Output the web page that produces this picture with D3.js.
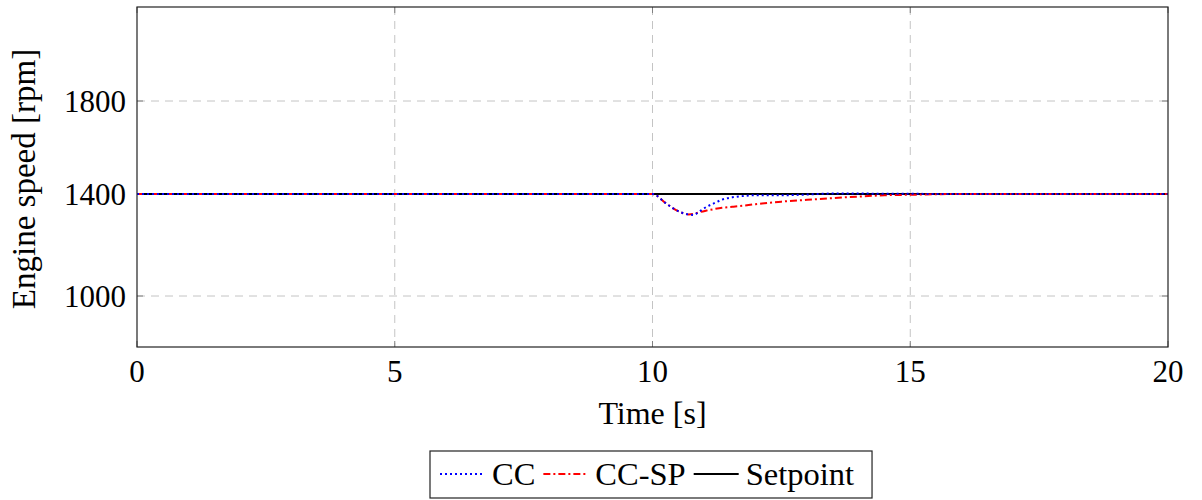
<!DOCTYPE html>
<html>
<head>
<meta charset="utf-8">
<script src="https://cdn.jsdelivr.net/npm/d3@7"></script>
<style>
  body { margin: 0; background: #fff; }
  text { font-family: "Liberation Serif", "DejaVu Serif", serif; fill: #000; }
</style>
</head>
<body>
<div id="chart"></div>
<script>
// data
var time = [0, 10, 10.25, 10.4, 10.55, 10.7, 10.8, 10.9, 11.05, 11.2, 11.35, 11.55, 11.7, 12, 12.5, 13, 13.5, 14, 14.5, 15, 15.5, 16, 20];
var ccValues = [1400, 1400, 1365, 1344, 1328, 1320, 1318, 1330, 1350, 1364, 1378, 1387, 1391, 1395, 1395, 1398, 1402, 1402, 1401, 1401, 1400, 1400, 1400];
var ccspValues = [1400, 1400, 1365, 1344, 1328, 1320, 1322, 1328, 1335, 1341, 1346, 1350, 1353, 1360, 1370, 1377, 1384, 1390, 1395, 1397, 1399, 1400, 1400];
var setpointTime = [0, 20];
var setpointValues = [1400, 1400];

var xTicks = [0, 5, 10, 15, 20];
var yTicks = [1000, 1400, 1800];
var seriesNames = ["CC", "CC-SP", "Setpoint"];

(function() {
    var width = 1202,
        height = 500;

    var left = 137, right = 1168, top = 7, bottom = 347;

    var svg = d3.select("#chart")
        .append("svg")
        .attr("width", width)
        .attr("height", height);

    var x = d3.scaleLinear()
        .domain([0, 20])
        .range([left, right]);

    // y axis of the original is not evenly spaced, so use a piecewise scale
    var y = d3.scaleLinear()
        .domain([800, 1000, 1400, 1800, 2200])
        .range([bottom, 296, 194, 101, top]);

    // grid
    var grid = svg.append("g");
    grid.selectAll("line.gx")
        .data(xTicks.filter(function(d) { return d > 0 && d < 20; }))
        .enter()
        .append("line")
        .attr("x1", function(d) { return x(d); })
        .attr("x2", function(d) { return x(d); })
        .attr("y1", top)
        .attr("y2", bottom)
        .style("stroke", "#c4c4c4")
        .style("stroke-width", 1)
        .style("stroke-dasharray", "8,6");
    grid.selectAll("line.gy")
        .data(yTicks)
        .enter()
        .append("line")
        .attr("x1", left)
        .attr("x2", right)
        .attr("y1", function(d) { return y(d); })
        .attr("y2", function(d) { return y(d); })
        .style("stroke", "#c4c4c4")
        .style("stroke-width", 1)
        .style("stroke-dasharray", "8,6");

    // inner tick marks on all four sides
    var tickLen = 6;
    var ticks = svg.append("g").style("stroke", "#808080").style("stroke-width", 1);
    xTicks.forEach(function(d) {
        ticks.append("line").attr("x1", x(d)).attr("x2", x(d)).attr("y1", bottom).attr("y2", bottom - tickLen);
        ticks.append("line").attr("x1", x(d)).attr("x2", x(d)).attr("y1", top).attr("y2", top + tickLen);
    });
    yTicks.forEach(function(d) {
        ticks.append("line").attr("x1", left).attr("x2", left + tickLen).attr("y1", y(d)).attr("y2", y(d));
        ticks.append("line").attr("x1", right).attr("x2", right - tickLen).attr("y1", y(d)).attr("y2", y(d));
    });

    // series
    var line = d3.line()
        .x(function(d) { return x(d[0]); })
        .y(function(d) { return y(d[1]); })
        .curve(d3.curveMonotoneX);

    svg.append("path")
        .datum(d3.zip(setpointTime, setpointValues))
        .attr("d", line)
        .style("fill", "none")
        .style("stroke", "#000")
        .style("stroke-width", 2);

    svg.append("path")
        .datum(d3.zip(time, ccspValues))
        .attr("d", line)
        .style("fill", "none")
        .style("stroke", "#ff0000")
        .style("stroke-width", 2)
        .style("stroke-dasharray", "7,3,2,3");

    svg.append("path")
        .datum(d3.zip(time, ccValues))
        .attr("d", line)
        .style("fill", "none")
        .style("stroke", "#0000ff")
        .style("stroke-width", 2)
        .style("stroke-dasharray", "2,3");

    // frame
    svg.append("rect")
        .attr("x", left)
        .attr("y", top)
        .attr("width", right - left)
        .attr("height", bottom - top)
        .style("fill", "none")
        .style("stroke", "#222")
        .style("stroke-width", 1.2);

    // tick labels
    svg.selectAll("text.xt")
        .data(xTicks)
        .enter()
        .append("text")
        .attr("x", function(d) { return x(d); })
        .attr("y", 382)
        .style("font-size", "31px")
        .style("text-anchor", "middle")
        .text(function(d) { return d; });

    svg.selectAll("text.yt")
        .data(yTicks)
        .enter()
        .append("text")
        .attr("x", 126)
        .attr("y", function(d) { return y(d); })
        .attr("dy", "0.34em")
        .style("font-size", "31px")
        .style("text-anchor", "end")
        .text(function(d) { return d; });

    // axis titles
    svg.append("text")
        .attr("x", (left + right) / 2)
        .attr("y", 424)
        .style("font-size", "32px")
        .style("text-anchor", "middle")
        .text("Time [s]");

    svg.append("text")
        .attr("transform", "translate(35," + ((top + bottom) / 2 + 2) + ") rotate(-90)")
        .style("font-size", "33px")
        .style("text-anchor", "middle")
        .text("Engine speed [rpm]");

    // legend
    var legend = svg.append("g");
    var box = legend.append("rect")
        .attr("y", 451)
        .attr("height", 47)
        .style("fill", "#fff")
        .style("stroke", "#222")
        .style("stroke-width", 1.2);

    var styles = [
        { color: "#0000ff", dash: "2,3" },
        { color: "#ff0000", dash: "7,3,2,3" },
        { color: "#000", dash: null }
    ];

    var cx = 440;
    seriesNames.forEach(function(name, i) {
        legend.append("line")
            .attr("x1", cx)
            .attr("x2", cx + 45)
            .attr("y1", 474)
            .attr("y2", 474)
            .style("stroke", styles[i].color)
            .style("stroke-width", 2)
            .style("stroke-dasharray", styles[i].dash);
        var t = legend.append("text")
            .attr("x", cx + 52)
            .attr("y", 485)
            .style("font-size", "32.5px")
            .text(name);
        cx += 52 + t.node().getComputedTextLength() + 8;
    });
    box.attr("x", 430).attr("width", cx - 430 + 10);
})();
</script>
</body>
</html>
